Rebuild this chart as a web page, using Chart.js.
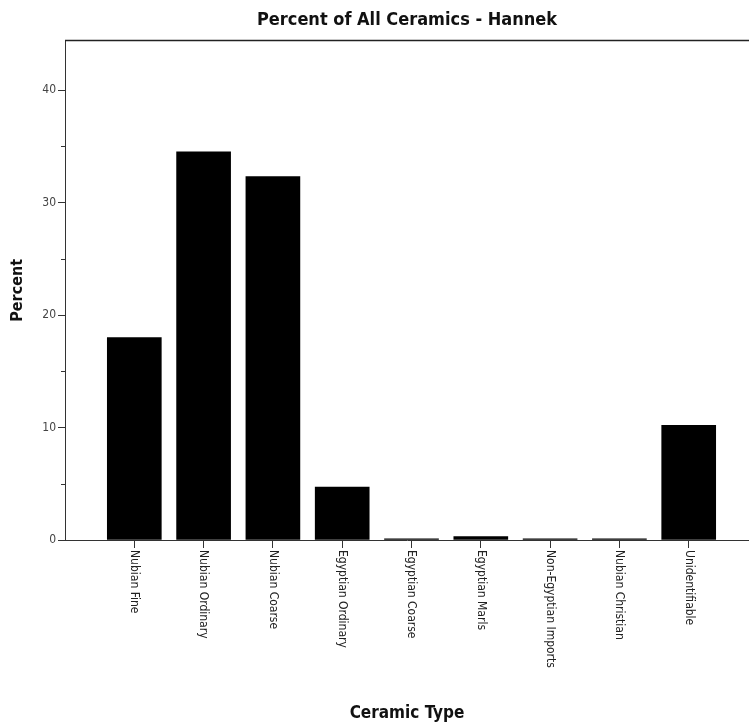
<!DOCTYPE html>
<html>
<head>
<meta charset="utf-8">
<script src="https://cdn.jsdelivr.net/npm/chart.js@4.4.1/dist/chart.umd.min.js"></script>
<style>
  html, body { margin: 0; padding: 0; background: #fff; }
  canvas { display: block; }
</style>
</head>
<body>
<canvas id="chart" width="749" height="727"></canvas>
<script>
const categories = [
  'Nubian Fine', 'Nubian Ordinary', 'Nubian Coarse', 'Egyptian Ordinary',
  'Egyptian Coarse', 'Egyptian Marls', 'Non-Egyptian Imports', 'Nubian Christian',
  'Unidentifiable'
];
const percents = [18.0, 34.5, 32.3, 4.7, 0.1, 0.3, 0.1, 0.1, 10.2];
const yTicks = [0, 10, 20, 30, 40];
const yMinorTicks = [5, 15, 25, 35];

const FONT = '"DejaVu Sans Condensed", "DejaVu Sans", sans-serif';
const AXIS = '#333';

// category labels read top-to-bottom under each tick, plus minor y ticks and the top frame line
const decorations = {
  id: 'decorations',
  afterDraw(chart) {
    const { ctx, chartArea, scales: { x, y } } = chart;
    ctx.save();
    ctx.font = '12px ' + FONT;
    ctx.fillStyle = '#222';
    ctx.textAlign = 'left';
    ctx.textBaseline = 'middle';
    categories.forEach((c, i) => {
      ctx.save();
      ctx.translate(x.getPixelForValue(i), x.top + 10);
      ctx.rotate(Math.PI / 2);
      ctx.fillText(c, 0, 0);
      ctx.restore();
    });

    ctx.strokeStyle = AXIS;
    ctx.lineWidth = 1;
    yMinorTicks.forEach(v => {
      const py = Math.round(y.getPixelForValue(v)) + 0.5;
      ctx.beginPath();
      ctx.moveTo(chartArea.left - 4, py);
      ctx.lineTo(chartArea.left, py);
      ctx.stroke();
    });

    ctx.lineWidth = 1.5;
    ctx.strokeStyle = '#222';
    ctx.beginPath();
    ctx.moveTo(chartArea.left, chartArea.top);
    ctx.lineTo(chartArea.right, chartArea.top);
    ctx.stroke();
    ctx.restore();
  }
};

new Chart(document.getElementById('chart'), {
  type: 'bar',
  data: {
    datasets: [{
      data: percents.map((v, i) => ({ x: i, y: v })),
      backgroundColor: '#000',
      borderWidth: 0,
      barThickness: 54
    }]
  },
  options: {
    responsive: false,
    animation: false,
    devicePixelRatio: 1,
    layout: { padding: 0 },
    plugins: {
      legend: { display: false },
      tooltip: { enabled: false },
      title: {
        display: true,
        text: 'Percent of All Ceramics - Hannek',
        fullSize: false,
        color: '#111',
        font: { family: FONT, size: 18, weight: 'bold' },
        padding: { top: 10, bottom: 9 }
      }
    },
    scales: {
      x: {
        type: 'linear',
        min: -1,
        max: 8.87,
        offset: false,
        afterBuildTicks: scale => { scale.ticks = categories.map((c, i) => ({ value: i })); },
        afterFit: scale => { scale.height = 187; },
        ticks: { display: false },
        grid: { offset: false, drawOnChartArea: false, drawTicks: true, tickLength: 8, color: AXIS },
        border: { display: true, color: AXIS, width: 1 },
        title: {
          display: true,
          text: 'Ceramic Type',
          color: '#111',
          font: { family: FONT, size: 17, weight: 'bold' },
          padding: { top: 0, bottom: 3 }
        }
      },
      y: {
        min: 0,
        max: 44.4,
        afterBuildTicks: scale => { scale.ticks = yTicks.map(v => ({ value: v })); },
        afterFit: scale => { scale.width = 65; },
        ticks: { color: '#444', padding: 2, font: { family: FONT, size: 12 } },
        grid: { drawOnChartArea: false, drawTicks: true, tickLength: 7, color: AXIS },
        border: { display: true, color: AXIS, width: 1 },
        title: {
          display: true,
          text: 'Percent',
          color: '#111',
          font: { family: FONT, size: 16, weight: 'bold' },
          padding: { top: 8, bottom: 0 }
        }
      }
    }
  },
  plugins: [decorations]
});
</script>
</body>
</html>
